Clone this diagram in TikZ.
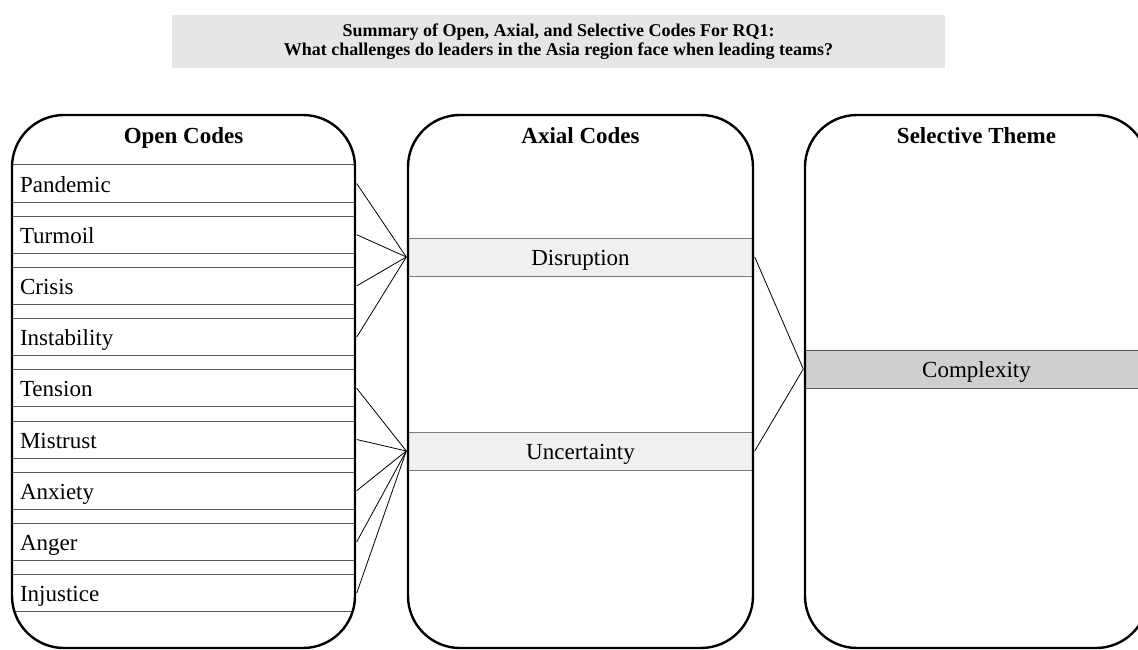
\documentclass[tikz,border=0pt]{standalone}
\usepackage{fontspec}
\setmainfont{Liberation Serif}
\definecolor{titlefill}{HTML}{E6E6E6}
\definecolor{axfill}{HTML}{F0F0F0}
\definecolor{selfill}{HTML}{D0CECF}
\definecolor{rowline}{HTML}{5A5A5A}
\begin{document}
\begin{tikzpicture}[x=1pt,y=-1pt,
  column/.style={draw=black, line width=2.4pt, rounded corners=52pt, minimum width=343pt, minimum height=533pt, inner sep=0pt},
  head/.style={font=\fontsize{23}{27}\selectfont\bfseries, inner sep=0pt, text height=16pt, text depth=4pt},
  code/.style={draw=rowline, line width=1pt, fill=white, minimum height=37pt, text width=327pt, inner xsep=8pt, inner ysep=0pt, align=left, text height=20pt, text depth=3pt, font=\fontsize{23}{27}\selectfont},
  axial/.style={draw=rowline!80, line width=1pt, fill=axfill, minimum width=345pt, minimum height=38pt, inner sep=0pt, text height=20pt, text depth=4pt, font=\fontsize{23}{27}\selectfont},
  theme/.style={draw=rowline, line width=1pt, fill=selfill, minimum width=343pt, minimum height=38pt, inner sep=0pt, text height=20pt, text depth=4pt, font=\fontsize{23}{27}\selectfont},
  link/.style={draw=black, line width=0.8pt}]
\clip (0,0) rectangle (1138,650);
\fill[white] (0,0) rectangle (1138,650);
% title
\node[fill=titlefill, minimum width=773pt, minimum height=53pt, inner sep=0pt, align=center,
  font=\fontsize{18}{18.5}\selectfont\bfseries] (title) at (558.5,41.5)
  {Summary of Open, Axial, and Selective Codes For RQ1:\\What challenges do leaders in the Asia region face when leading teams?};
% open code rows (clipped to the column shape)
\begin{scope}
\clip[rounded corners=52pt] (12,115) rectangle (355,648);
\foreach \name/\txt [count=\i from 0] in {r1/Pandemic,r2/Turmoil,r3/Crisis,r4/Instability,r5/Tension,r6/Mistrust,r7/Anxiety,r8/Anger,r9/Injustice}{
  \node[code] (\name) at (183.5,{183.5+51.2*\i}) {\txt};
}
\end{scope}
% axial rows
\node[axial] (dis) at (580.5,257) {Disruption};
\node[axial] (unc) at (580.5,451) {Uncertainty};
% theme row
\node[theme] (cpx) at (976.5,369) {Complexity};
% columns
\node[column] (colO) at (183.5,381.5) {};
\node[column, minimum width=345pt] (colA) at (580.5,381.5) {};
\node[column] (colS) at (976.5,381.5) {};
% headers
\node[head] (hO) at (183.5,137) {Open Codes};
\node[head] (hA) at (580.5,137) {Axial Codes};
\node[head] (hS) at (976.5,137) {Selective Theme};
% connectors
\foreach \r in {r1,r2,r3,r4}{ \draw[link] ([xshift=1.2pt]\r.east) -- ([xshift=-1.2pt]dis.west); }
\foreach \r in {r5,r6,r7,r8,r9}{ \draw[link] ([xshift=1.2pt]\r.east) -- ([xshift=-1.2pt]unc.west); }
\draw[link] ([xshift=1.2pt]dis.east) -- ([xshift=-1.2pt]cpx.west);
\draw[link] ([xshift=1.2pt]unc.east) -- ([xshift=-1.2pt]cpx.west);
\end{tikzpicture}
\end{document}
